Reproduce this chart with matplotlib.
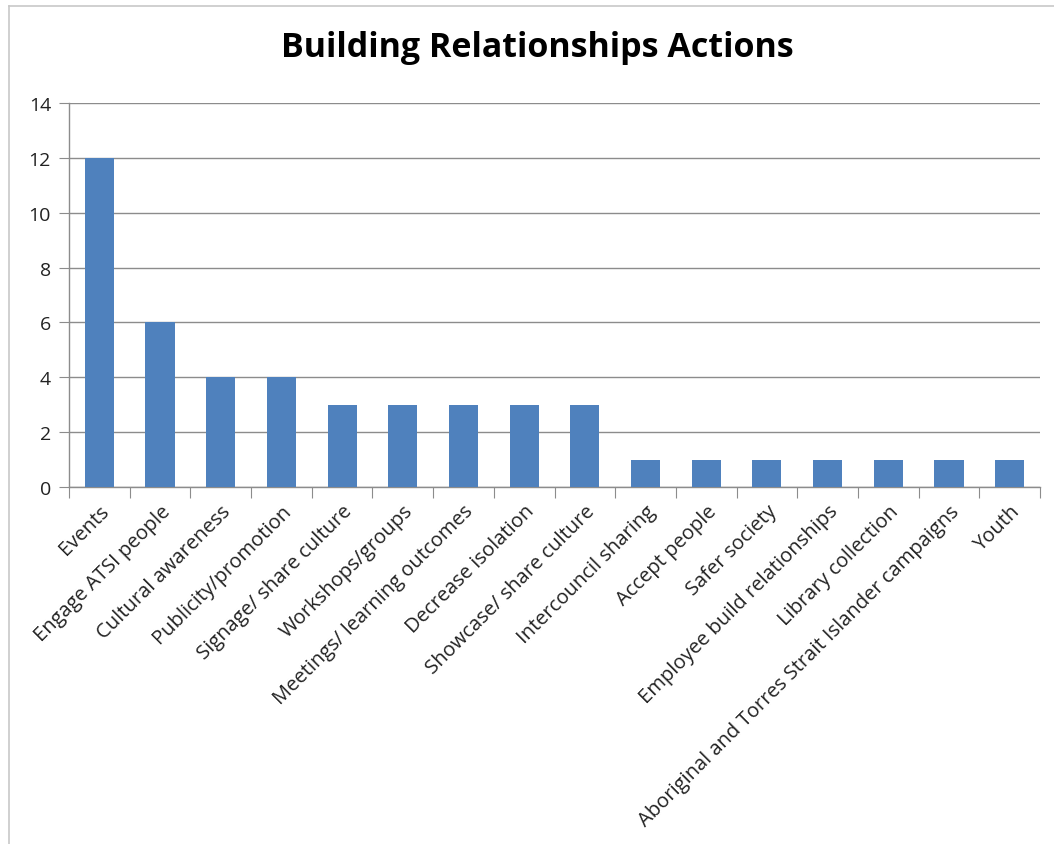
import numpy as np
import matplotlib.pyplot as plt
from matplotlib.lines import Line2D

categories = ['Events', 'Engage ATSI people', 'Cultural awareness', 'Publicity/promotion',
              'Signage/ share culture', 'Workshops/groups', 'Meetings/ learning outcomes',
              'Decrease isolation', 'Showcase/ share culture', 'Intercouncil sharing',
              'Accept people', 'Safer society', 'Employee build relationships',
              'Library collection', 'Aboriginal and Torres Strait Islander campaigns', 'Youth']
counts = [12, 6, 4, 4, 3, 3, 3, 3, 3, 1, 1, 1, 1, 1, 1, 1]
yticks = [0, 2, 4, 6, 8, 10, 12, 14]

plt.rcParams['font.family'] = ['Open Sans', 'DejaVu Sans']

fig = plt.figure(figsize=(10.54, 8.45), dpi=100)
ax = fig.add_axes([0.0655, 0.4225, 0.9212, 0.4544])

x = np.arange(len(categories))
ax.bar(x, counts, width=0.48, color='#4f81bd', zorder=3)

ax.set_xlim(-0.5, len(categories) - 0.5)
ax.set_ylim(0, 14)
ax.set_yticks(yticks)
ax.set_yticklabels([str(v) for v in yticks], fontsize=14, color='#222222')
ax.yaxis.grid(True, color='#8c8c8c', linewidth=1, zorder=0)

# category ticks sit on the boundaries between bars
ax.set_xticks(np.arange(len(categories) + 1) - 0.5)
ax.set_xticklabels([])
ax.set_xticks(x, minor=True)
ax.set_xticklabels(categories, minor=True, rotation=45, ha='right',
                   rotation_mode='anchor', fontsize=14.5, color='#222222')
ax.tick_params(axis='x', which='minor', length=0, pad=10)
ax.tick_params(axis='x', which='major', length=8, color='#8c8c8c', direction='out')
ax.tick_params(axis='y', length=7, color='#8c8c8c', pad=6)

for s in ['top', 'right']:
    ax.spines[s].set_visible(False)
for s in ['left', 'bottom']:
    ax.spines[s].set_color('#8c8c8c')
    ax.spines[s].set_linewidth(1)

fig.text(0.51, 0.943, 'Building Relationships Actions', ha='center', va='center',
         fontsize=24.5, fontweight='bold', color='black')

# chart frame (top and left edges)
fig.add_artist(Line2D([9 / 1054, 1], [1 - 7 / 845, 1 - 7 / 845], color='#c8c8c8', linewidth=1.2))
fig.add_artist(Line2D([9 / 1054, 9 / 1054], [0, 1 - 7 / 845], color='#c8c8c8', linewidth=1.2))

fig.savefig('out.png', dpi=100)
